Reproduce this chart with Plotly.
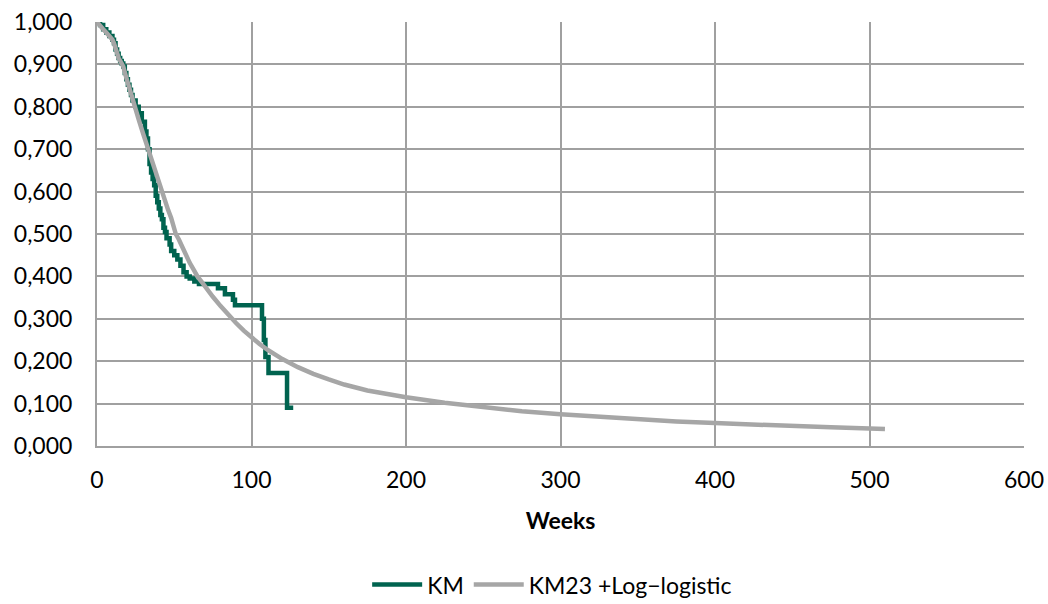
import plotly.graph_objects as go

# Kaplan-Meier estimate (weeks, survival), drawn as a step function
km_weeks = [0, 2, 4, 6, 8, 10, 11, 12, 13, 14, 15, 16, 17, 18, 19, 20, 21, 22, 23,
            25, 27, 29, 31, 32, 33, 34, 35, 36, 37, 38, 39, 40, 41, 42, 43, 44, 45,
            47, 48, 50, 52, 54, 56, 58, 60, 63, 66, 78.3, 82.8, 88, 89.3,
            106.8, 108, 109, 111, 123, 127]
km_surv = [1.0, 0.993, 0.983, 0.975, 0.967, 0.958, 0.95, 0.935, 0.925, 0.915, 0.908,
           0.902, 0.895, 0.88, 0.865, 0.852, 0.84, 0.828, 0.815, 0.80, 0.785, 0.765,
           0.742, 0.725, 0.70, 0.665, 0.645, 0.63, 0.615, 0.59, 0.575, 0.56, 0.545,
           0.535, 0.515, 0.505, 0.49, 0.475, 0.46, 0.45, 0.44, 0.425, 0.41, 0.40,
           0.395, 0.388, 0.382, 0.372, 0.358, 0.345, 0.332, 0.30, 0.25, 0.21, 0.172,
           0.09, 0.09]

# KM up to week 23, then log-logistic extrapolation
fit_weeks = [0, 2, 4, 6, 8, 10, 11, 12, 14, 16, 17, 19, 21, 23, 25, 27, 30, 33, 35,
             37, 40, 42, 44, 46, 48, 51, 53, 55, 58, 60, 63, 65, 68, 70, 75, 80, 85,
             90, 95, 100, 105, 110, 115, 120, 130, 140, 150, 160, 175, 190, 200, 225,
             250, 275, 300, 325, 350, 375, 400, 425, 450, 475, 500, 510]
fit_surv = [1.0, 0.993, 0.983, 0.975, 0.967, 0.958, 0.95, 0.935, 0.915, 0.902, 0.895,
            0.868, 0.842, 0.815, 0.795, 0.77, 0.735, 0.70, 0.678, 0.655, 0.622, 0.60,
            0.578, 0.557, 0.538, 0.50, 0.487, 0.47, 0.447, 0.432, 0.413, 0.40, 0.386,
            0.375, 0.352, 0.33, 0.309, 0.29, 0.272, 0.255, 0.241, 0.228, 0.216, 0.205,
            0.186, 0.17, 0.157, 0.145, 0.131, 0.121, 0.115, 0.102, 0.091, 0.082,
            0.075, 0.069, 0.063, 0.058, 0.054, 0.05, 0.047, 0.044, 0.041, 0.040]

y_ticks = [0.0, 0.1, 0.2, 0.3, 0.4, 0.5, 0.6, 0.7, 0.8, 0.9, 1.0]
y_tick_labels = ["0,000", "0,100", "0,200", "0,300", "0,400", "0,500",
                 "0,600", "0,700", "0,800", "0,900", "1,000"]
x_ticks = [0, 100, 200, 300, 400, 500, 600]

FONT = "Lato"
GRID = "#a0a0a0"

fig = go.Figure()
fig.add_trace(go.Scatter(
    x=km_weeks, y=km_surv, name="KM", mode="lines",
    line=dict(color="#00634f", width=4.5, shape="hv"),
))
fig.add_trace(go.Scatter(
    x=fit_weeks, y=fit_surv, name="KM23 +Log\u2212logistic", mode="lines",
    line=dict(color="#a6a6a6", width=4.5, shape="linear"),
))

fig.update_layout(
    width=1048, height=604,
    margin=dict(l=97, r=24, t=22, b=158),
    paper_bgcolor="white", plot_bgcolor="white",
    font=dict(family=FONT, size=23, color="#000000"),
    showlegend=True,
    legend=dict(
        orientation="h", x=0.491, xanchor="center",
        yref="container", y=0.032, yanchor="middle",
        itemwidth=50,
        font=dict(family=FONT, size=23, color="#000000"),
    ),
    xaxis=dict(
        range=[0, 600], tickvals=x_ticks, ticks="",
        showgrid=True, gridcolor=GRID, gridwidth=2,
        showline=True, linecolor=GRID, linewidth=2,
        zeroline=False, fixedrange=True, automargin=False,
        ticklabelstandoff=12,
        title=dict(text="<b>Weeks</b>", font=dict(family=FONT, size=23), standoff=21),
        tickfont=dict(family=FONT, size=23),
    ),
    yaxis=dict(
        range=[0, 1.0], tickvals=y_ticks, ticktext=y_tick_labels, ticks="",
        showgrid=True, gridcolor=GRID, gridwidth=2,
        showline=True, linecolor=GRID, linewidth=2,
        zeroline=False, fixedrange=True, automargin=False,
        ticklabelstandoff=18,
        tickfont=dict(family=FONT, size=23),
    ),
)

fig.write_html("out.html")
